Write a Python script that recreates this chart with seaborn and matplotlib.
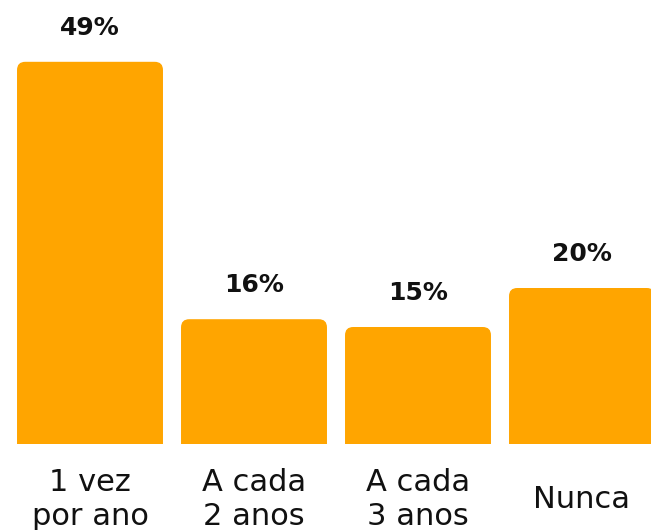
import pandas as pd
import seaborn as sns
import matplotlib.pyplot as plt
from matplotlib.patches import FancyBboxPatch

# dados
categorias = ["1 vez\npor ano", "A cada\n2 anos", "A cada\n3 anos", "Nunca"]
percentuais = [49, 16, 15, 20]

df = pd.DataFrame({"freq": categorias, "pct": percentuais})

sns.set_theme(style="white")
plt.rcParams["font.family"] = ["DejaVu Sans"]

fig = plt.figure(figsize=(6.51, 5.30), dpi=100)
ax = fig.add_axes([0, 86 / 530, 1, 444 / 530])

sns.barplot(data=df, x="freq", y="pct", color="#FFA500", width=0.89,
            saturation=1, ax=ax)

ax.set_xlim(-90 / 164, 561 / 164)
ax.set_ylim(0, 444 / 7.8)

# rótulos de percentual
ax.bar_label(ax.containers[0], labels=[f"{v}%" for v in percentuais],
             padding=16, fontsize=18, fontweight="bold", color="#111111")

# cantos arredondados no topo das barras
aspect = 164 / 7.8
for p in ax.patches[:]:
    x, w, h = p.get_x(), p.get_width(), p.get_height()
    p.set_visible(False)
    r = FancyBboxPatch((x, -5), w, h + 5,
                       boxstyle="round,pad=0,rounding_size=0.05",
                       mutation_aspect=aspect, facecolor="#FFA500",
                       edgecolor="none")
    ax.add_patch(r)

for s in ax.spines.values():
    s.set_visible(False)
ax.set_xlabel("")
ax.set_ylabel("")
ax.set_yticks([])
ax.tick_params(axis="x", length=0, pad=40, labelsize=22, colors="#111111")
for t in ax.get_xticklabels():
    t.set_verticalalignment("center")
    t.set_linespacing(1.25)

fig.savefig("out.png", dpi=100)
